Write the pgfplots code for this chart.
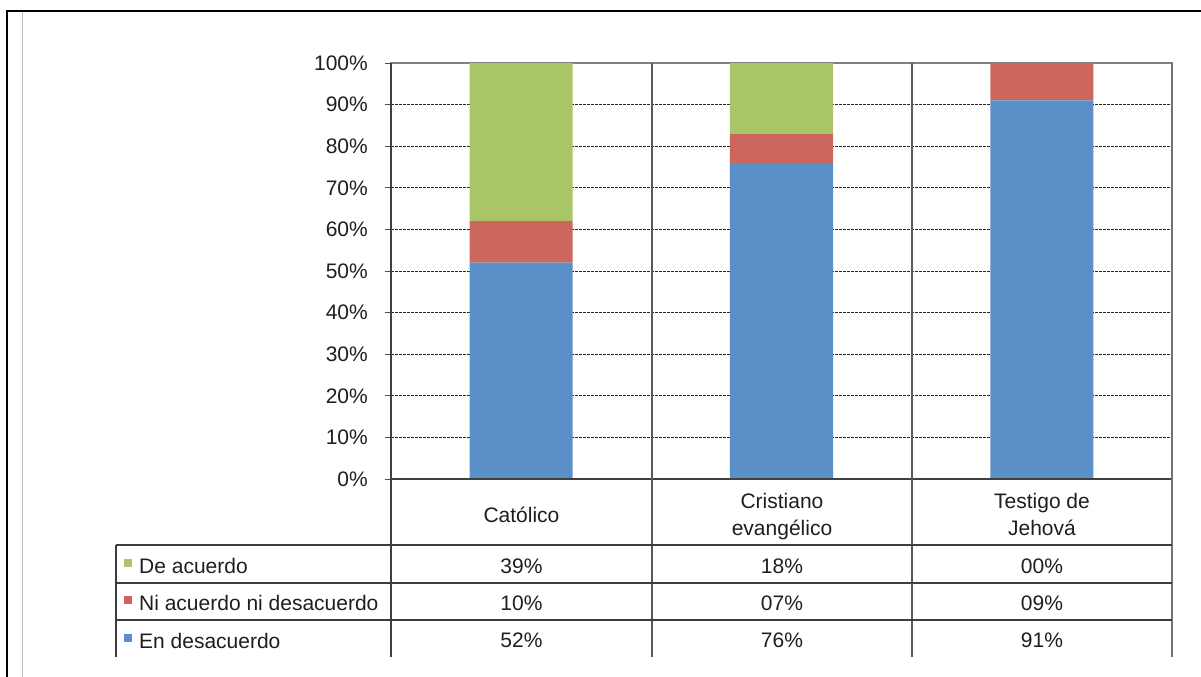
\documentclass[border=0pt]{standalone}
\usepackage{pgfplots}
\pgfplotsset{compat=1.18}
\usepackage{fontspec}
\setmainfont{Liberation Sans}

\definecolor{cblue}{HTML}{5B8FC7}
\definecolor{cred}{HTML}{CD665C}
\definecolor{cgreen}{HTML}{AAC468}
\definecolor{txt}{HTML}{1E1E1E}
\definecolor{tline}{HTML}{3C3C3C}

\newcommand{\tf}{\fontsize{21bp}{24bp}\selectfont}

\begin{document}
\begin{tikzpicture}
\useasboundingbox (0bp,0bp) rectangle (1201bp,-677bp);

\begin{axis}[
  at={(391bp,-479bp)}, anchor=south west,
  width=781bp, height=416bp, scale only axis,
  xmin=0, xmax=3, ymin=0, ymax=100,
  ybar stacked, bar width=0.396,
  xtick=\empty,
  ytick={0,10,...,100},
  yticklabel={\pgfmathprintnumber{\tick}\%},
  /pgf/number format/assume math mode=true,
  yticklabel style={font=\tf, text=txt, inner sep=0pt, xshift=-17bp},
  ytick pos=left, tick align=outside, major tick length=6bp,
  tick style={black!70, line width=1bp},
  ymajorgrids,
  grid style={black!85, line width=0.8bp, dash pattern=on 2.5bp off 1.5bp},
  axis line style={black!50, line width=1.3bp},
  legend style={at={(axis description cs:-0.3419,-0.1875)}, anchor=north west,
    draw=none, fill=none, inner sep=0pt, font=\tf, text=txt,
    row sep=16.5bp, column sep=7bp,
    nodes={inner sep=0pt, text height=16bp, text depth=5bp}},
  legend cell align=left,
  reverse legend,
  legend image code/.code={\fill[#1] (0bp,1bp) rectangle (8bp,9bp);},
]
\addplot[fill=cblue, draw=none] coordinates {(0.5,52) (1.5,76) (2.5,91)};
\addlegendentry{En desacuerdo}
\addplot[fill=cred, draw=none] coordinates {(0.5,10) (1.5,7) (2.5,9)};
\addlegendentry{Ni acuerdo ni desacuerdo}
\addplot[fill=cgreen, draw=none] coordinates {(0.5,39) (1.5,18) (2.5,0)};
\addlegendentry{De acuerdo}
\end{axis}

\begin{scope}[x=1bp, y=-1bp]
  % outer frame
  \draw[black, line width=2bp] (1201,11) -- (7,11) -- (7,677);
  \draw[black!25, line width=1bp] (22,12) -- (22,677);
  % axis left and bottom lines, category separators
  \draw[black!75, line width=1.3bp] (391,63) -- (391,657);
  \draw[black!75, line width=1.3bp] (391,479) -- (1172,479);
  \draw[black!65, line width=1.3bp] (652,63) -- (652,657);
  \draw[black!65, line width=1.3bp] (912,63) -- (912,657);
  \draw[black!55, line width=1.3bp] (1172,63) -- (1172,657);
  % data table
  \draw[tline, line width=1.2bp] (116,545) -- (1172,545);
  \draw[tline, line width=1.2bp] (116,583) -- (1172,583);
  \draw[tline, line width=1.2bp] (116,620) -- (1172,620);
  \draw[tline, line width=1.2bp] (116,545) -- (116,657);
  % category names
  \node[anchor=base, font=\tf, text=txt] at (521.5,522) {Católico};
  \node[anchor=base, font=\tf, text=txt] at (782,508) {Cristiano};
  \node[anchor=base, font=\tf, text=txt] at (782,535) {evangélico};
  \node[anchor=base, font=\tf, text=txt] at (1042,508) {Testigo de};
  \node[anchor=base, font=\tf, text=txt] at (1042,535) {Jehová};
  % values
  \node[anchor=base, font=\tf, text=txt] at (521.5,573) {39\%};
  \node[anchor=base, font=\tf, text=txt] at (782,573) {18\%};
  \node[anchor=base, font=\tf, text=txt] at (1042,573) {00\%};
  \node[anchor=base, font=\tf, text=txt] at (521.5,610) {10\%};
  \node[anchor=base, font=\tf, text=txt] at (782,610) {07\%};
  \node[anchor=base, font=\tf, text=txt] at (1042,610) {09\%};
  \node[anchor=base, font=\tf, text=txt] at (521.5,647) {52\%};
  \node[anchor=base, font=\tf, text=txt] at (782,647) {76\%};
  \node[anchor=base, font=\tf, text=txt] at (1042,647) {91\%};
\end{scope}
\end{tikzpicture}
\end{document}
